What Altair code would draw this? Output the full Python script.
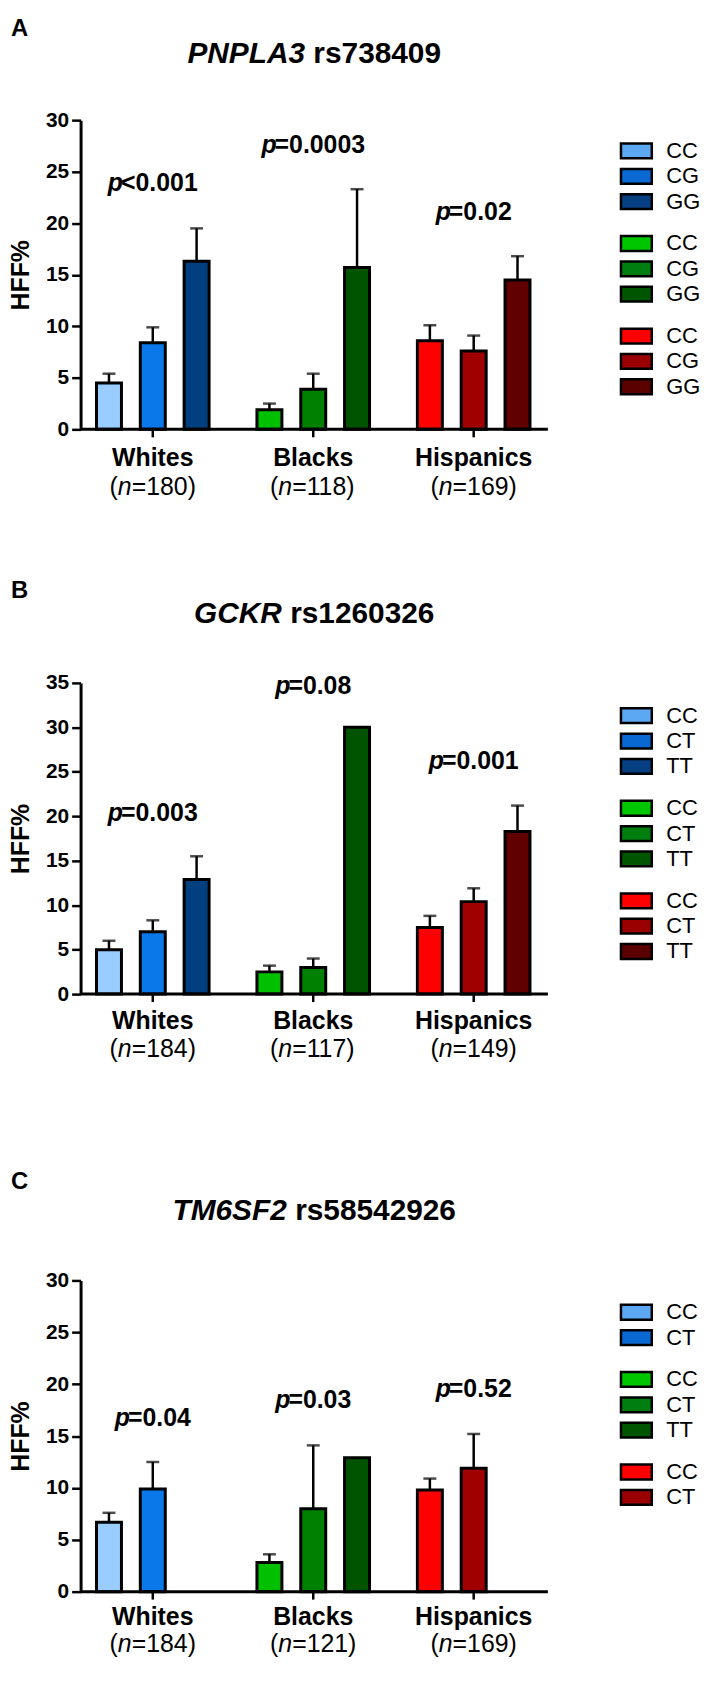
import altair as alt
import pandas as pd

FONT = "Liberation Sans"

GROUPS = ["Whites", "Blacks", "Hispanics"]

# ---------------- data ----------------
# Panel A: PNPLA3 rs738409
A_GENO = [["CC", "CG", "GG"], ["CC", "CG", "GG"], ["CC", "CG", "GG"]]
A_MEAN = [[4.5, 8.4, 16.3], [1.9, 3.9, 15.7], [8.6, 7.6, 14.5]]
A_UPPER = [[5.4, 9.9, 19.5], [2.5, 5.4, 23.3], [10.1, 9.1, 16.8]]
A_P = ["<0.001", "=0.0003", "=0.02"]
A_PY = [23.9, 27.6, 21.1]
A_N = ["180", "118", "169"]

# Panel B: GCKR rs1260326
B_GENO = [["CC", "CT", "TT"], ["CC", "CT", "TT"], ["CC", "CT", "TT"]]
B_MEAN = [[5.0, 7.0, 12.9], [2.5, 3.0, 30.0], [7.5, 10.4, 18.3]]
B_UPPER = [[6.0, 8.3, 15.5], [3.2, 4.0, None], [8.8, 11.9, 21.2]]
B_P = ["=0.003", "=0.08", "=0.001"]
B_PY = [20.4, 34.6, 26.2]
B_N = ["184", "117", "149"]

# Panel C: TM6SF2 rs58542926
C_GENO = [["CC", "CT"], ["CC", "CT", "TT"], ["CC", "CT"]]
C_MEAN = [[6.7, 9.9], [2.8, 8.0, 12.9], [9.8, 11.9]]
C_UPPER = [[7.6, 12.5], [3.6, 14.1, None], [10.9, 15.2]]
C_P = ["=0.04", "=0.03", "=0.52"]
C_PY = [16.7, 18.5, 19.5]
C_N = ["184", "121", "169"]

# ---------------- styles ----------------
BAR_COLORS = {
    "Whites": ["#99CCFF", "#0A78E8", "#003F80"],
    "Blacks": ["#00C000", "#008000", "#005400"],
    "Hispanics": ["#FF0000", "#A00000", "#600000"],
}
LEG_COLORS = {
    "Whites": ["#5DA8F2", "#0A68D2", "#063F82"],
    "Blacks": ["#00C600", "#007F10", "#005500"],
    "Hispanics": ["#FF0000", "#9A0000", "#5A0000"],
}

BOLD_W = {' ': 278, '(': 333, ')': 333, '%': 889, '.': 278, '<': 584, '=': 584,
          'A': 722, 'B': 722, 'C': 722, 'F': 611, 'G': 778, 'H': 722, 'K': 722,
          'L': 611, 'M': 833, 'N': 722, 'P': 667, 'R': 722, 'S': 667, 'T': 611,
          'W': 944, 'a': 556, 'c': 556, 'e': 556, 'h': 611, 'i': 278, 'k': 556,
          'l': 278, 'n': 611, 'p': 611, 'r': 389, 's': 556, 't': 333}
REG_W = {'(': 333, ')': 333, '=': 584, 'n': 556}


def tw(s, size, table):
    return sum(table.get(c, 556) for c in s) * size / 1000.0


WIDTH = 468
RECT_PATH = "M-1,-0.48L1,-0.48L1,0.48L-1,0.48Z"

AXIS_STYLE = dict(grid=False, domainColor="black", domainWidth=3, tickColor="black",
                  tickWidth=2.5, tickSize=9, labelPadding=3, labelFont=FONT,
                  labelFontSize=21, labelFontWeight="bold", labelColor="black",
                  titleFont=FONT, titleFontSize=25, titleFontWeight="bold",
                  titleColor="black", titlePadding=12)


def panel(letter, gene, rs, geno, mean, upper, prest, py, ns, ymax, lay):
    rows = []
    for gi, g in enumerate(GROUPS):
        for si, gt in enumerate(geno[gi]):
            rows.append(dict(group=g, slot=si, geno=gt, mean=mean[gi][si],
                             upper=upper[gi][si], col=BAR_COLORS[g][si]))
    df = pd.DataFrame(rows)
    df_err = df.dropna(subset=["upper"])

    def ysc():
        return alt.Scale(domain=[0, ymax], range=[lay["y0"], lay["ytop"]], nice=False, zero=True)

    xenc = alt.X("group:N", sort=GROUPS,
                 scale=alt.Scale(domain=GROUPS, paddingInner=0.2, paddingOuter=0.05),
                 axis=None)
    xoff = alt.XOffset("slot:N", scale=alt.Scale(domain=[0, 1, 2], paddingInner=0.43, paddingOuter=0.18))

    yaxis = alt.Axis(values=list(range(0, ymax + 1, 5)), title="HFF%", orient="left",
                     **AXIS_STYLE)

    layers = []
    layers.append(alt.Chart(df).mark_bar(stroke="black", strokeWidth=3).encode(
        x=xenc, xOffset=xoff,
        y=alt.Y("mean:Q", scale=ysc(), axis=yaxis),
        color=alt.Color("col:N", scale=None),
    ))
    layers.append(alt.Chart(df_err).mark_rule(color="black", strokeWidth=2.5).encode(
        x=xenc, xOffset=xoff,
        y=alt.Y("mean:Q", scale=ysc(), axis=None),
        y2="upper:Q",
    ))
    layers.append(alt.Chart(df_err).mark_tick(color="black", thickness=2.5, size=13,
                                              orient="horizontal").encode(
        x=xenc, xOffset=xoff,
        y=alt.Y("upper:Q", scale=ysc(), axis=None),
    ))

    one = pd.DataFrame({"k": [0]})
    layers.append(alt.Chart(one).mark_rule(color="black", strokeWidth=3).encode(
        x=alt.value(0), x2=alt.value(WIDTH + 2),
        y=alt.YDatum(0, scale=ysc(), axis=None)))

    lab = pd.DataFrame({"group": GROUPS, "n": ns, "nrest": ["=" + n + ")" for n in ns]})
    layers.append(alt.Chart(lab).mark_rule(color="black", strokeWidth=2.5).encode(
        x=xenc, y=alt.YDatum(0, scale=ysc(), axis=None), y2=alt.value(lay["y0"] + 8)))

    layers.append(alt.Chart(lab).mark_text(font=FONT, fontSize=25, fontWeight="bold",
                                           align="center", baseline="alphabetic",
                                           color="black").encode(
        x=xenc, y=alt.value(lay["lab"]), text="group:N"))
    nW = tw("(n=184)", 25, REG_W)
    ny = lay["nlab"]
    layers.append(alt.Chart(lab).mark_text(font=FONT, fontSize=25, align="left",
                                           baseline="alphabetic", color="black", text="(",
                                           dx=-nW / 2).encode(x=xenc, y=alt.value(ny)))
    layers.append(alt.Chart(lab).mark_text(font=FONT, fontSize=25, align="left",
                                           baseline="alphabetic", fontStyle="italic",
                                           color="black", text="n",
                                           dx=-nW / 2 + 8.3).encode(x=xenc, y=alt.value(ny)))
    layers.append(alt.Chart(lab).mark_text(font=FONT, fontSize=25, align="left",
                                           baseline="alphabetic", color="black",
                                           dx=-nW / 2 + 8.3 + 13.9).encode(
        x=xenc, y=alt.value(ny), text="nrest:N"))

    for gi, g in enumerate(GROUPS):
        pdf = pd.DataFrame({"group": [g], "py": [py[gi]], "rest": [prest[gi]]})
        wp = tw("p", 25, BOLD_W)
        wr = tw(prest[gi], 25, BOLD_W)
        W = wp + wr - 2
        layers.append(alt.Chart(pdf).mark_text(
            font=FONT, fontSize=25, fontWeight="bold", fontStyle="italic", align="left",
            baseline="middle", color="black", text="p", dx=-W / 2).encode(
            x=xenc, y=alt.Y("py:Q", scale=ysc(), axis=None)))
        layers.append(alt.Chart(pdf).mark_text(
            font=FONT, fontSize=25, fontWeight="bold", align="left",
            baseline="middle", color="black", dx=-W / 2 + wp - 2).encode(
            x=xenc, y=alt.Y("py:Q", scale=ysc(), axis=None), text="rest:N"))

    layers.append(alt.Chart(one).mark_text(font=FONT, fontSize=24, fontWeight="bold",
                                           align="left", baseline="alphabetic",
                                           color="black", text=letter).encode(
        x=alt.value(-70), y=alt.value(lay["letter"])))
    w1 = tw(gene, 30, BOLD_W)
    w2 = tw(rs, 30, BOLD_W)
    sp = tw(" ", 30, BOLD_W)
    left = 235 - (w1 + sp + w2) / 2
    layers.append(alt.Chart(one).mark_text(font=FONT, fontSize=30, fontWeight="bold",
                                           fontStyle="italic", align="left",
                                           baseline="alphabetic", color="black",
                                           text=gene).encode(
        x=alt.value(left), y=alt.value(lay["title"])))
    layers.append(alt.Chart(one).mark_text(font=FONT, fontSize=30, fontWeight="bold",
                                           align="left", baseline="alphabetic",
                                           color="black", text=rs).encode(
        x=alt.value(left + w1 + sp), y=alt.value(lay["title"])))

    # legend
    lrows = []
    r = 0
    for gi, g in enumerate(GROUPS):
        for si, gt in enumerate(geno[gi]):
            lrows.append(dict(lpos=r + 0.65 * gi, lcol=LEG_COLORS[g][si], geno=gt))
            r += 1
    ldf = pd.DataFrame(lrows)

    def lsc():
        return alt.Scale(domain=[0, 1], range=[lay["leg"], lay["leg"] + 25.5], zero=False, nice=False)

    layers.append(alt.Chart(ldf).mark_point(shape=RECT_PATH, filled=True, size=961,
                                            stroke="black", strokeWidth=2.5,
                                            opacity=1).encode(
        x=alt.value(559), y=alt.Y("lpos:Q", scale=lsc(), axis=None),
        color=alt.Color("lcol:N", scale=None)))
    layers.append(alt.Chart(ldf).mark_text(font=FONT, fontSize=22, align="left",
                                           baseline="middle", color="black").encode(
        x=alt.value(589), y=alt.Y("lpos:Q", scale=lsc(), axis=None), text="geno:N"))

    return alt.layer(*layers).resolve_scale(y="independent").properties(
        width=WIDTH, height=lay["H"])


LAY_A = dict(H=566, y0=419, ytop=108, letter=23.7, title=50.3, lab=456, nlab=485.5, leg=139)
LAY_B = dict(H=594, y0=421, ytop=108, letter=22.7, title=47.7, lab=456, nlab=484, leg=141)
LAY_C = dict(H=500, y0=428, ytop=115, letter=22.7, title=54.3, lab=462, nlab=489, leg=147)

pA = panel("A", "PNPLA3", "rs738409", A_GENO, A_MEAN, A_UPPER, A_P, A_PY, A_N, 30, LAY_A)
pB = panel("B", "GCKR", "rs1260326", B_GENO, B_MEAN, B_UPPER, B_P, B_PY, B_N, 35, LAY_B)
pC = panel("C", "TM6SF2", "rs58542926", C_GENO, C_MEAN, C_UPPER, C_P, C_PY, C_N, 30, LAY_C)

chart = alt.vconcat(pA, pB, pC, spacing=0, bounds="flush").properties(
    padding=0, background="white"
).configure_view(stroke=None).configure_axis(**AXIS_STYLE)

chart.save("out.html", embed_options={"renderer": "svg", "actions": False})
